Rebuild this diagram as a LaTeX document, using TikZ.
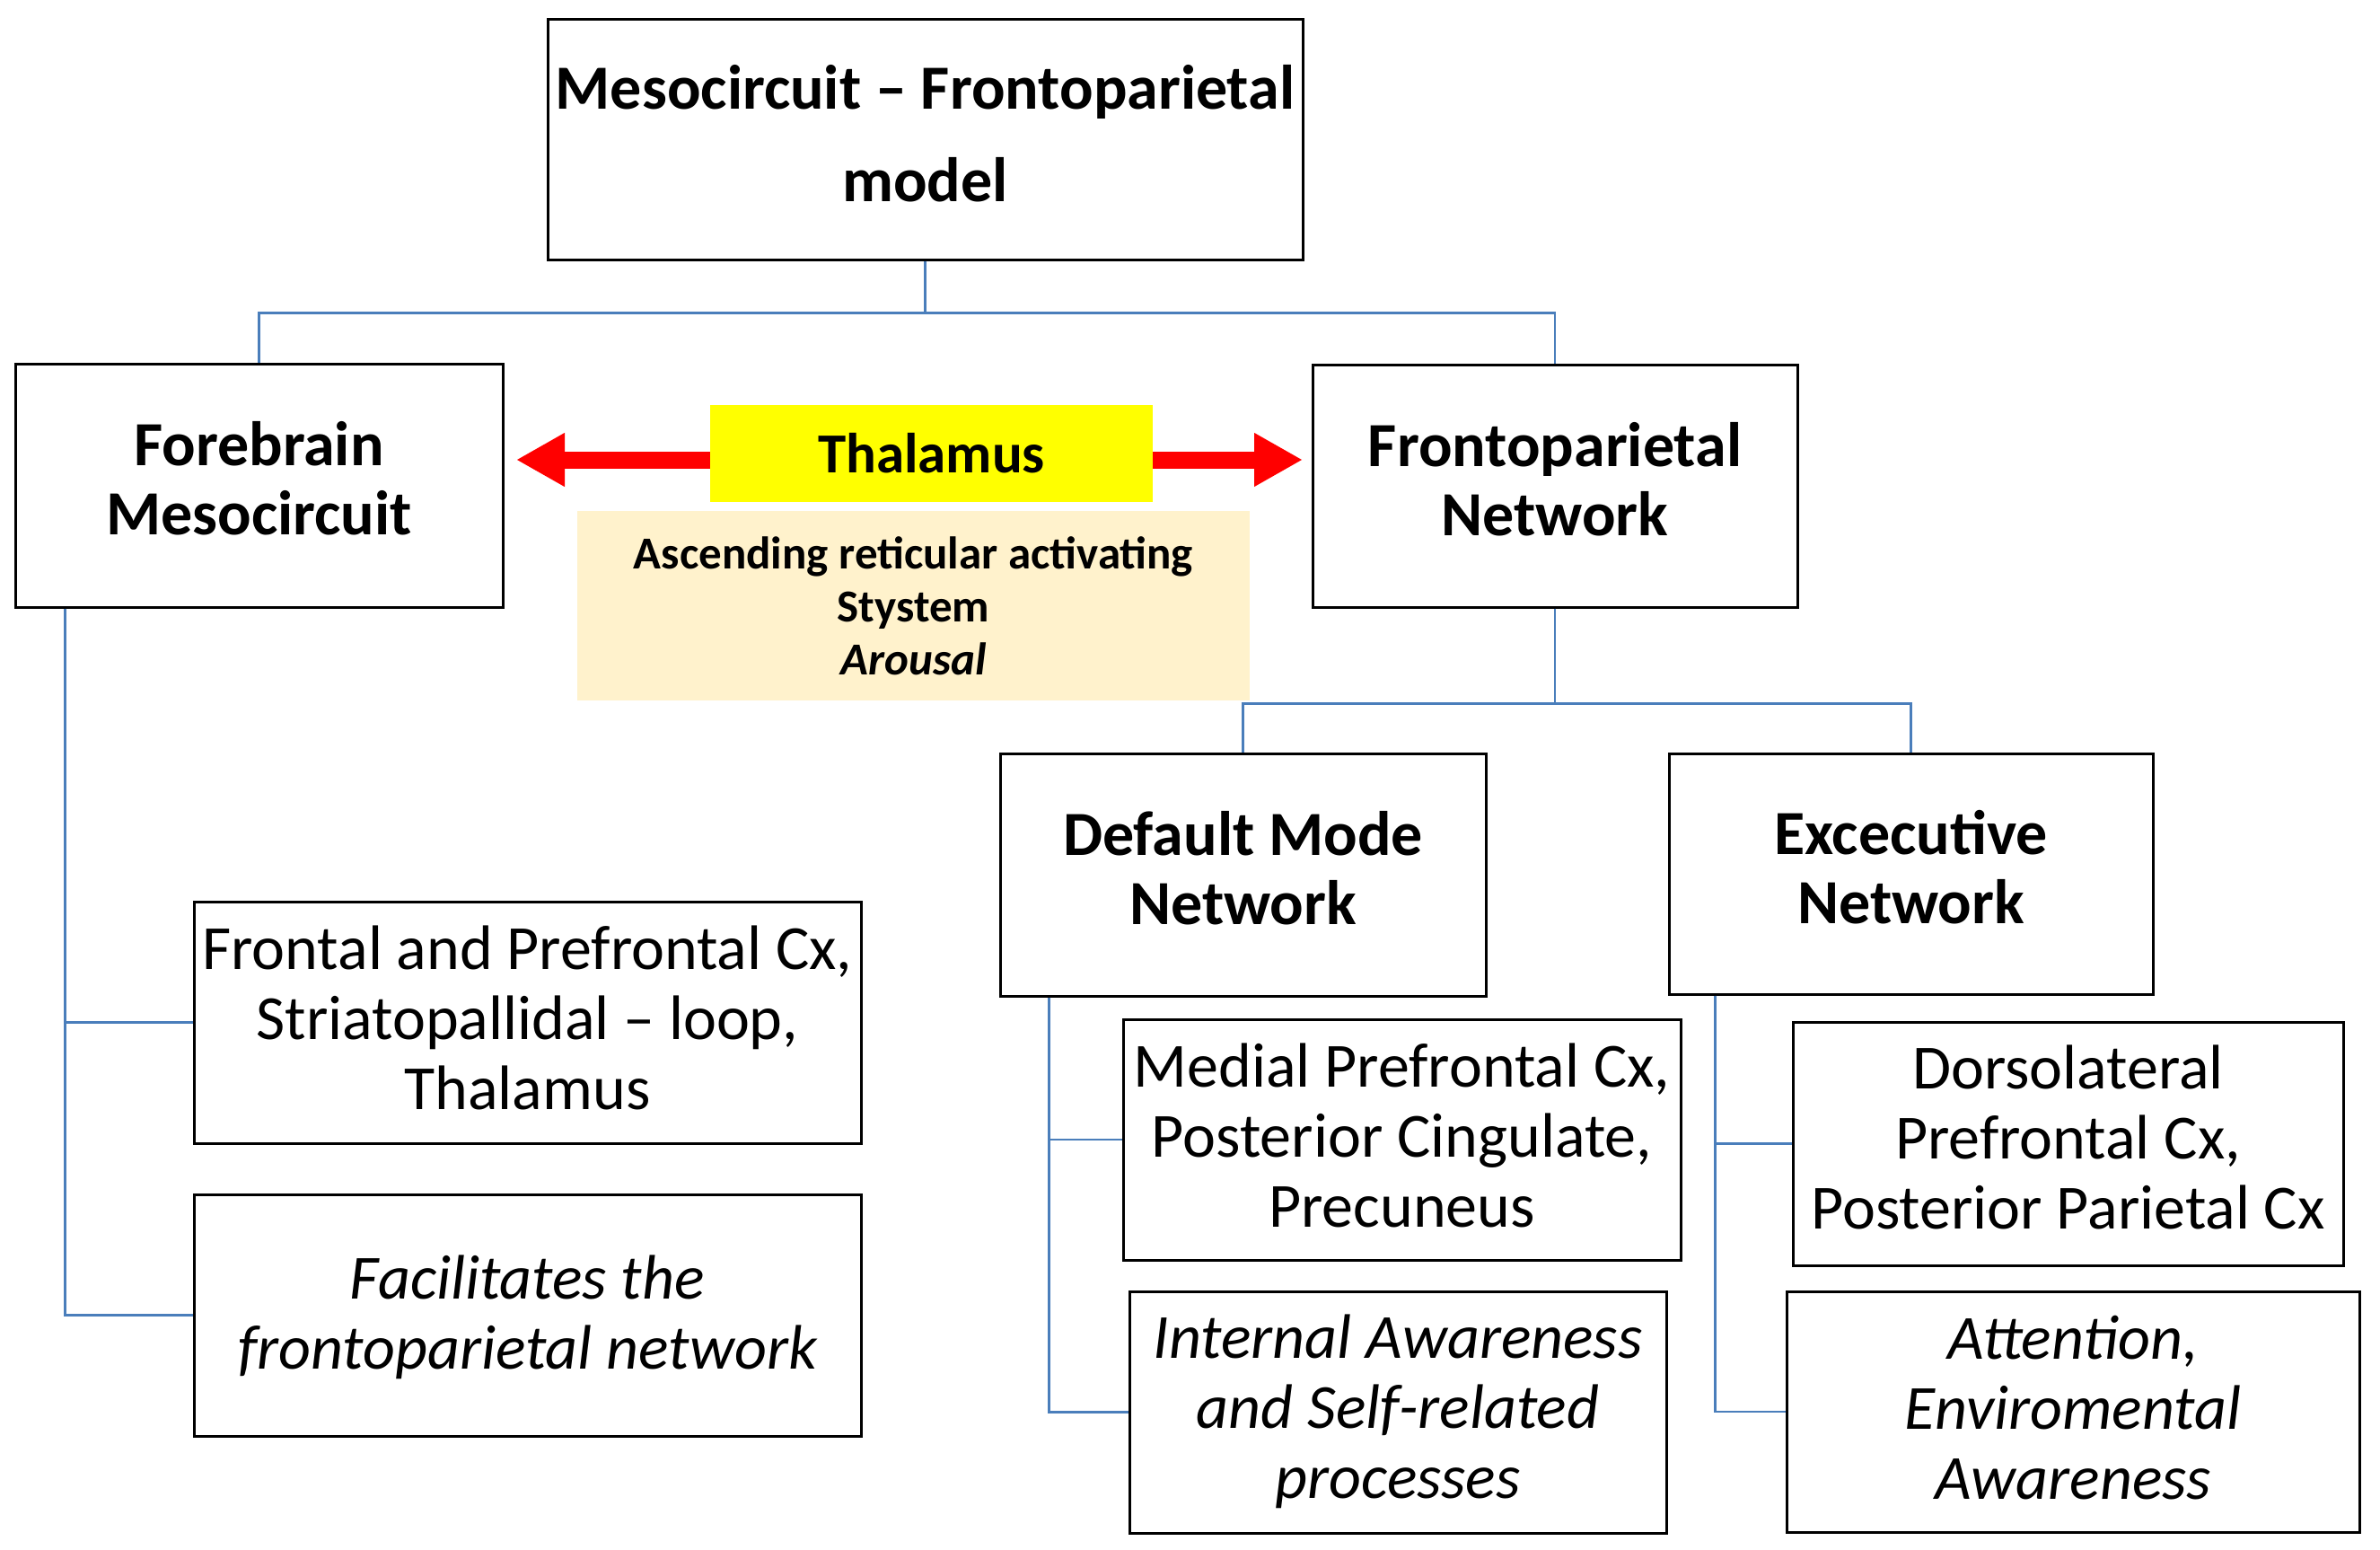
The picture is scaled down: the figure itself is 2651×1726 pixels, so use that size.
\documentclass[tikz,border=0pt]{standalone}
\usepackage{fontspec}
\setmainfont{Carlito}
\usetikzlibrary{arrows.meta}
\definecolor{connblue}{RGB}{74,126,187}
\definecolor{beige}{RGB}{255,242,204}
\definecolor{thalyellow}{RGB}{255,255,0}
\begin{document}
\begin{tikzpicture}[x=1pt,y=-1pt,
  box/.style={draw=black, line width=3pt, fill=white, inner sep=0pt},
  txt/.style={inner sep=0pt, align=center},
  titlefont/.style={txt, font=\fontsize{70}{103}\selectfont\bfseries},
  headfont/.style={txt, font=\fontsize{70}{77}\selectfont\bfseries},
  leaffont/.style={txt, font=\fontsize{70}{78}\selectfont},
  italfont/.style={txt, font=\fontsize{70}{78}\selectfont\itshape},
  conn/.style={draw=connblue, line width=2.5pt},
  bigarrow/.style={draw=red, line width=19pt, -{Triangle[length=54pt, width=56pt]}}
]
\useasboundingbox (0,0) rectangle (2651,1726);

% main boxes
\node[box, minimum width=841pt, minimum height=267pt] (top) at (1030.5,155.5) {};
\node[titlefont] (top-t) at ([yshift=7pt]top.center) {Mesocircuit -- Frontoparietal\\model};
\node[box, minimum width=543pt, minimum height=271pt] (fore) at (288.5,540.5) {};
\node[headfont] (fore-t) at ([yshift=8pt]fore.center) {Forebrain\\Mesocircuit};
\node[box, minimum width=540pt, minimum height=270pt] (fp) at (1732,541) {};
\node[headfont] (fp-t) at ([yshift=7pt]fp.center) {Frontoparietal\\Network};

% thalamus and ARAS
\node[fill=thalyellow, inner sep=0pt, minimum width=493pt, minimum height=108pt,
  font=\fontsize{63}{70}\selectfont\bfseries] (thal) at (1037.5,505) {Thalamus};
\node[fill=beige, inner sep=0pt, minimum width=749pt, minimum height=211pt, align=center,
  font=\fontsize{51}{59}\selectfont\bfseries] (aras) at (1017.5,674.5)
  {Ascending reticular activating\\Stystem\\\textit{Arousal}};
\coordinate (la) at (575,512);
\coordinate (ra) at (1451,512);
\draw[bigarrow] (thal.west |- la) -- (la);
\draw[bigarrow] (thal.east |- ra) -- (ra);

% sub-networks
\node[box, minimum width=541pt, minimum height=270pt] (dmn) at (1384.5,974) {};
\node[headfont] (dmn-t) at ([yshift=7pt]dmn.center) {Default Mode\\Network};
\node[box, minimum width=539pt, minimum height=268pt] (exe) at (2128.5,973) {};
\node[headfont] (exe-t) at ([yshift=7pt]exe.center) {Excecutive\\Network};

% leaves
\node[box, minimum width=743pt, minimum height=269pt] (frontal) at (587.5,1138.5) {};
\node[leaffont] (frontal-t) at ([yshift=5pt]frontal.center)
  {Frontal and Prefrontal Cx,\\Striatopallidal -- loop,\\Thalamus};
\node[box, minimum width=743pt, minimum height=269pt] (facil) at (587.5,1464.5) {};
\node[italfont] (facil-t) at ([yshift=-2pt]facil.center)
  {Facilitates the\\frontoparietal network};
\node[box, minimum width=621pt, minimum height=268pt] (medial) at (1561.5,1269) {};
\node[leaffont] (medial-t) at ([yshift=5pt]medial.center)
  {Medial Prefrontal Cx,\\Posterior Cingulate,\\Precuneus};
\node[box, minimum width=598pt, minimum height=269pt] (internal) at (1557,1572.5) {};
\node[italfont] (internal-t) at ([yshift=1pt]internal.center)
  {Internal Awareness\\and Self-related\\processes};
\node[box, minimum width=613pt, minimum height=271pt] (dorso) at (2303.5,1273.5) {};
\node[leaffont] (dorso-t) at ([yshift=7pt]dorso.center)
  {Dorsolateral\\Prefrontal Cx,\\Posterior Parietal Cx};
\node[box, minimum width=638pt, minimum height=268pt] (attn) at (2309,1572) {};
\node[italfont] (attn-t) at ([yshift=4pt]attn.center)
  {Attention,\\Enviromental\\Awareness};

% connectors
\draw[conn] (top.south) -- ++(0,58) -| (fore.north);
\draw[conn] (top.south) -- ++(0,58) -| (fp.north);
\draw[conn] (fp.south) -- ++(0,106) -| (dmn.north);
\draw[conn] (fp.south) -- ++(0,106) -| (exe.north);
\draw[conn] ([xshift=57pt]fore.south west) |- (frontal.west);
\draw[conn] ([xshift=57pt]fore.south west) |- (facil.west);
\draw[conn] ([xshift=56pt]dmn.south west) |- (medial.west);
\draw[conn] ([xshift=56pt]dmn.south west) |- (internal.west);
\draw[conn] ([xshift=53pt]exe.south west) |- (dorso.west);
\draw[conn] ([xshift=53pt]exe.south west) |- (attn.west);
\end{tikzpicture}
\end{document}
